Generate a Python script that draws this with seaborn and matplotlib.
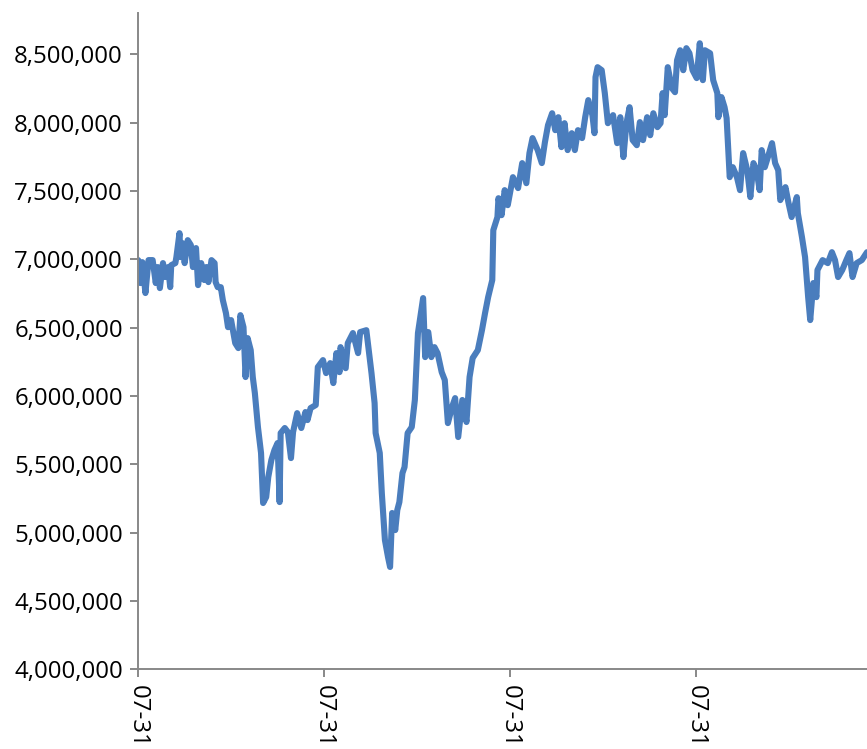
import pandas as pd
import numpy as np
import matplotlib
matplotlib.use("Agg")
import matplotlib.pyplot as plt
import matplotlib.dates as mdates
from matplotlib.ticker import FuncFormatter
import seaborn as sns

# minutes after 2023-07-31 00:00
minutes = [
    0, 2, 4, 7, 10, 14, 17, 19, 21, 24, 26, 29, 31, 32, 36, 37, 40, 41, 43, 45,
    48, 51, 53, 56, 58, 61, 64, 66, 68, 71, 74, 75, 77, 80, 82, 85,
    87, 90, 94, 97, 99, 102, 104, 106, 109, 111, 113,
    116, 119, 121, 124, 126, 129, 132, 135, 137, 138, 142, 145, 148, 150, 154, 158, 162, 164, 167, 172,
    174, 179, 182, 186, 189, 192, 195, 196, 201, 203, 208, 213, 215, 221, 223, 226, 229, 230, 234, 236,
    239, 242, 244, 246, 249, 251, 253, 256, 258, 261, 265, 268, 271, 276, 278, 281, 284, 287, 290, 294,
    297, 300, 304, 307, 310, 314, 318, 321, 324, 329, 333, 336, 339, 343, 344, 348, 349, 352, 355, 358,
    363, 368, 372, 376, 379, 382, 387, 391, 394, 397, 401, 404, 407, 410, 413, 416, 420, 423, 426, 430,
    433, 436, 440, 442, 443, 445, 449, 452, 455, 460, 464, 467, 470, 473, 476, 479, 483, 486, 489, 493,
    496, 499, 503, 506, 508, 510, 513, 517, 520, 522, 525, 528, 531, 534, 537, 541, 544, 547, 549, 554,
    557, 561, 562, 565, 568, 570, 573, 576, 580, 583, 586, 590, 593, 596, 599, 602, 604, 607, 610, 614,
    617, 620, 622, 625, 627, 630, 633, 638, 639, 643, 646, 649, 651, 654, 657, 658, 663, 668, 672, 675,
    678, 682, 686, 689, 692, 696, 701, 706,
]

# values in thousands
values_k = [
    6995, 6827, 6980, 6754, 6995, 6995, 6827, 6944, 6790, 6973, 6871, 6944, 6797, 6958, 6973, 7017, 7192, 7017, 7119, 6973,
    7141, 7105, 6944, 7083, 6812, 6973, 6849, 6944, 6834, 6995, 6973, 6834, 6797, 6797, 6702, 6607,
    6504, 6556, 6387, 6351, 6592, 6504, 6139, 6424, 6336, 6139, 6022,
    5773, 5583, 5217, 5261, 5407, 5532, 5605, 5656, 5224, 5729, 5766, 5736, 5546, 5736, 5875, 5766, 5883, 5824, 5912, 5934,
    6212, 6263, 6168, 6241, 6095, 6314, 6175, 6358, 6204, 6387, 6461, 6314, 6468, 6482, 6358, 6168, 5949, 5729, 5583, 5290,
    4946, 4821, 4749, 5144, 5019, 5166, 5224, 5436, 5480, 5729, 5773, 5971, 6461, 6717, 6285, 6468, 6285, 6358, 6314, 6175,
    6117, 5802, 5919, 5985, 5700, 5971, 5810, 6139, 6278, 6336, 6482, 6607, 6724, 6849, 7214, 7310, 7448, 7324, 7507, 7397,
    7602, 7522, 7705, 7558, 7778, 7888, 7800, 7705, 7858, 7983, 8070, 7946, 8041, 7822, 7997, 7800, 7924, 7800, 7946, 7888,
    8041, 8166, 8056, 7924, 8334, 8407, 8385, 8217, 7997, 8056, 7851, 8041, 7749, 7997, 8114, 7873, 7836, 8005, 7873, 8041,
    7909, 8070, 7968, 7997, 8217, 8056, 8407, 8253, 8224, 8458, 8531, 8385, 8546, 8509, 8385, 8327, 8582, 8312, 8531, 8509,
    8312, 8217, 8041, 8188, 8114, 8034, 7602, 7675, 7602, 7507, 7778, 7653, 7456, 7705, 7653, 7507, 7800, 7675, 7749, 7851,
    7705, 7653, 7434, 7485, 7529, 7412, 7310, 7456, 7339, 7163, 7017, 6724, 6556, 6827, 6724, 6922, 6995, 6973, 7053, 6995,
    6871, 6922, 6995, 7046, 6871, 6973, 6995, 7053,
]

y_ticks = [4000000, 4500000, 5000000, 5500000, 6000000, 6500000, 7000000, 7500000, 8000000, 8500000]

start = pd.Timestamp("2023-07-31 00:00")
df = pd.DataFrame({
    "time": start + pd.to_timedelta(minutes, unit="m"),
    "value": np.array(values_k) * 1000,
})

sns.set_style("white")
plt.rcParams["font.family"] = ["Open Sans", "DejaVu Sans"]

fig = plt.figure(figsize=(8.67, 7.49), dpi=100)
ax = fig.add_axes([0.1594, 0.1064, 0.8406, 0.8756])

sns.lineplot(data=df, x="time", y="value", ax=ax, color="#4a7dbd", linewidth=4.4,
             solid_joinstyle="round", solid_capstyle="round")

ax.set_xlim(df["time"].iloc[0], df["time"].iloc[-1])
ax.set_ylim(4000000, 8800000)
ax.set_yticks(y_ticks)
ax.yaxis.set_major_formatter(FuncFormatter(lambda v, p: f"{int(v):,}"))
ax.xaxis.set_major_locator(mdates.HourLocator(interval=3))
ax.xaxis.set_major_formatter(mdates.DateFormatter("%m-%d"))

for lab in ax.get_xticklabels():
    lab.set_rotation(-90)
    lab.set_va("top")
    lab.set_ha("center")

ax.set_xlabel("")
ax.set_ylabel("")
sns.despine(ax=ax)
for s in ["left", "bottom"]:
    ax.spines[s].set_color("#888888")
    ax.spines[s].set_linewidth(1.4)
ax.tick_params(axis="both", which="major", length=6, width=1.4, color="#888888",
               labelsize=17.3, labelcolor="black", direction="out", pad=5)
ax.tick_params(left=True, bottom=True)
ax.grid(False)

fig.savefig("out.png", dpi=100)
